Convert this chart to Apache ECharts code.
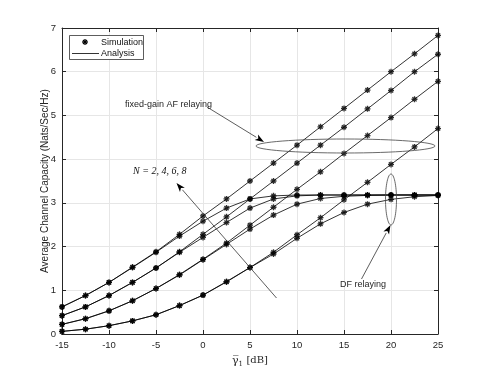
<!DOCTYPE html>
<html>
<head>
<meta charset="utf-8">
<script src="https://cdn.jsdelivr.net/npm/echarts@6/dist/echarts.min.js"></script>
<style>
  html, body { margin: 0; padding: 0; background: #fff; }
  #main { width: 485px; height: 376px; }
</style>
</head>
<body>
<div id="main"></div>
<script>
// SNR points (dB)
const snr = [-15, -12.5, -10, -7.5, -5, -2.5, 0, 2.5, 5, 7.5, 10, 12.5, 15, 17.5, 20, 22.5, 25];

// fixed-gain AF relaying, N = 8, 6, 4, 2
const af8 = [0.62, 0.88, 1.18, 1.53, 1.88, 2.28, 2.70, 3.09, 3.50, 3.91, 4.32, 4.74, 5.16, 5.58, 6.00, 6.41, 6.83];
const af6 = [0.42, 0.62, 0.88, 1.18, 1.51, 1.88, 2.28, 2.68, 3.09, 3.50, 3.91, 4.32, 4.73, 5.15, 5.57, 6.00, 6.40];
const af4 = [0.22, 0.35, 0.53, 0.76, 1.04, 1.36, 1.71, 2.08, 2.49, 2.90, 3.31, 3.71, 4.13, 4.54, 4.95, 5.37, 5.78];
const af2 = [0.06, 0.11, 0.19, 0.30, 0.44, 0.65, 0.89, 1.20, 1.52, 1.87, 2.27, 2.66, 3.07, 3.47, 3.88, 4.28, 4.70];

// DF relaying, N = 8, 6, 4, 2
const df8 = [0.62, 0.88, 1.18, 1.52, 1.87, 2.24, 2.58, 2.88, 3.09, 3.16, 3.18, 3.18, 3.18, 3.18, 3.18, 3.18, 3.18];
const df6 = [0.42, 0.62, 0.88, 1.18, 1.51, 1.87, 2.21, 2.55, 2.88, 3.09, 3.16, 3.18, 3.18, 3.18, 3.18, 3.18, 3.18];
const df4 = [0.22, 0.35, 0.53, 0.76, 1.04, 1.35, 1.70, 2.05, 2.40, 2.72, 2.97, 3.10, 3.15, 3.17, 3.18, 3.18, 3.18];
const df2 = [0.06, 0.11, 0.19, 0.30, 0.44, 0.65, 0.89, 1.19, 1.52, 1.83, 2.19, 2.52, 2.78, 2.97, 3.08, 3.14, 3.17];

const curves = [af8, af6, af4, af2, df8, df6, df4, df2];

const xTicks = [-15, 25, 5];   // min, max, step
const yTicks = [0, 7, 1];

const star = 'path://M5,0L5,10M0,5L10,5M1.5,1.5L8.5,8.5M1.5,8.5L8.5,1.5';
const txt = '#262626';
const font = 'Liberation Sans, Arial, sans-serif';

function pairs(ys) {
  return snr.map((x, i) => [x, ys[i]]);
}

let series = [];
curves.forEach(c => {
  series.push({
    name: 'Analysis', type: 'line', data: pairs(c), symbol: 'none',
    lineStyle: { color: '#000', width: 0.8 }, itemStyle: { color: '#000' },
    silent: true, z: 2
  });
});
curves.forEach(c => {
  series.push({
    name: 'Simulation', type: 'scatter', data: pairs(c), symbol: star, symbolSize: 6,
    itemStyle: { color: 'rgba(0,0,0,0)', borderColor: '#000', borderWidth: 1.3 },
    silent: true, z: 3
  });
});

// arrow helper for the annotations
function arrow(x1, y1, x2, y2) {
  const a = Math.atan2(y2 - y1, x2 - x1);
  const L = 9, W = 3.2;
  const bx = x2 - L * Math.cos(a), by = y2 - L * Math.sin(a);
  const nx = -Math.sin(a), ny = Math.cos(a);
  return [
    { type: 'line', shape: { x1: x1, y1: y1, x2: bx, y2: by }, style: { stroke: '#333', lineWidth: 0.8 }, z: 10 },
    { type: 'polygon', shape: { points: [[x2, y2], [bx + nx * W, by + ny * W], [bx + L * 0.25 * Math.cos(a), by + L * 0.25 * Math.sin(a)], [bx - nx * W, by - ny * W]] },
      style: { fill: '#000' }, z: 10 }
  ];
}

function seg(x1, y1, x2, y2, w) {
  return { type: 'line', shape: { x1: x1, y1: y1, x2: x2, y2: y2 }, style: { stroke: '#000', lineWidth: w }, z: 21 };
}

// legend box drawn by hand (marker-only / line-only entries)
const legendBox = [
  { type: 'rect', shape: { x: 69.5, y: 35.5, width: 74, height: 24 }, style: { fill: '#fff', stroke: '#333', lineWidth: 0.8 }, z: 20 },
  seg(85, 39, 85, 45, 1.3), seg(82, 42, 88, 42, 1.3), seg(83, 40, 87, 44, 1.3), seg(83, 44, 87, 40, 1.3),
  { type: 'text', left: 101, top: 38.5, style: { text: 'Simulation', font: '9px ' + font, fill: '#111' }, z: 21 },
  seg(72, 53.5, 99, 53.5, 0.8),
  { type: 'text', left: 101, top: 49.5, style: { text: 'Analysis', font: '9px ' + font, fill: '#111' }, z: 21 }
];

const graphics = [
  { type: 'ellipse', shape: { cx: 345.5, cy: 146, rx: 89.5, ry: 7 }, style: { fill: 'none', stroke: '#444', lineWidth: 0.8 }, z: 10 },
  { type: 'ellipse', shape: { cx: 391, cy: 199.5, rx: 5.5, ry: 25.5 }, style: { fill: 'none', stroke: '#444', lineWidth: 0.8 }, z: 10 },
  ...arrow(207, 107, 264, 142),
  ...arrow(361.5, 279, 390.5, 225),
  ...arrow(276.5, 298, 176.5, 183),
  { type: 'text', left: 125, top: 100, style: { text: 'fixed-gain AF relaying', font: '9px ' + font, fill: txt }, z: 11 },
  { type: 'text', left: 340, top: 280, style: { text: 'DF relaying', font: '9px ' + font, fill: txt }, z: 11 },
  { type: 'text', left: 133, top: 166, style: { text: 'N = 2, 4, 6, 8', font: 'italic 10px Liberation Serif, serif', fill: '#111' }, z: 11 },
  ...legendBox
];

const chart = echarts.init(document.getElementById('main'), null, { renderer: 'canvas' });

const tickStyle = { color: txt, fontSize: 9.5, fontFamily: font };

chart.setOption({
  animation: false,
  backgroundColor: '#fff',
  grid: { left: 62, right: 47, top: 28, bottom: 42 },
  xAxis: [{
    type: 'value', min: xTicks[0], max: xTicks[1], interval: xTicks[2],
    name: '{g|\u03B3\u0305}{s|1} {u|[dB]}', nameLocation: 'middle', nameGap: 20,
    nameTextStyle: {
      rich: {
        g: { fontFamily: 'DejaVu Serif, serif', fontSize: 11, color: txt },
        s: { fontFamily: 'DejaVu Serif, serif', fontSize: 7, color: txt, verticalAlign: 'bottom', padding: [6, 0, 0, 0] },
        u: { fontFamily: 'DejaVu Serif, serif', fontSize: 10, color: txt }
      }
    },
    axisLine: { onZero: false, lineStyle: { color: '#262626', width: 1 } },
    axisTick: { inside: true, length: 4, lineStyle: { color: '#262626' } },
    axisLabel: Object.assign({ margin: 6 }, tickStyle),
    splitLine: { show: true, lineStyle: { color: '#e6e6e6', width: 1 } }
  }, {
    type: 'value', position: 'top', min: xTicks[0], max: xTicks[1], interval: xTicks[2],
    axisLine: { onZero: false, lineStyle: { color: '#262626', width: 1 } },
    axisTick: { inside: true, length: 4, lineStyle: { color: '#262626' } },
    axisLabel: { show: false }, splitLine: { show: false }
  }],
  yAxis: [{
    type: 'value', min: yTicks[0], max: yTicks[1], interval: yTicks[2],
    name: 'Average Channel Capacity (Nats/Sec/Hz)', nameLocation: 'middle', nameGap: 12,
    nameMoveOverlap: false,
    nameTextStyle: { color: txt, fontSize: 10, fontFamily: font },
    axisLine: { onZero: false, lineStyle: { color: '#262626', width: 1 } },
    axisTick: { inside: true, length: 4, lineStyle: { color: '#262626' } },
    axisLabel: Object.assign({ margin: 6 }, tickStyle),
    splitLine: { show: true, lineStyle: { color: '#e6e6e6', width: 1 } }
  }, {
    type: 'value', position: 'right', min: yTicks[0], max: yTicks[1], interval: yTicks[2],
    axisLine: { onZero: false, lineStyle: { color: '#262626', width: 1 } },
    axisTick: { inside: true, length: 4, lineStyle: { color: '#262626' } },
    axisLabel: { show: false }, splitLine: { show: false }
  }],
  series: series,
  graphic: graphics
});
</script>
</body>
</html>
